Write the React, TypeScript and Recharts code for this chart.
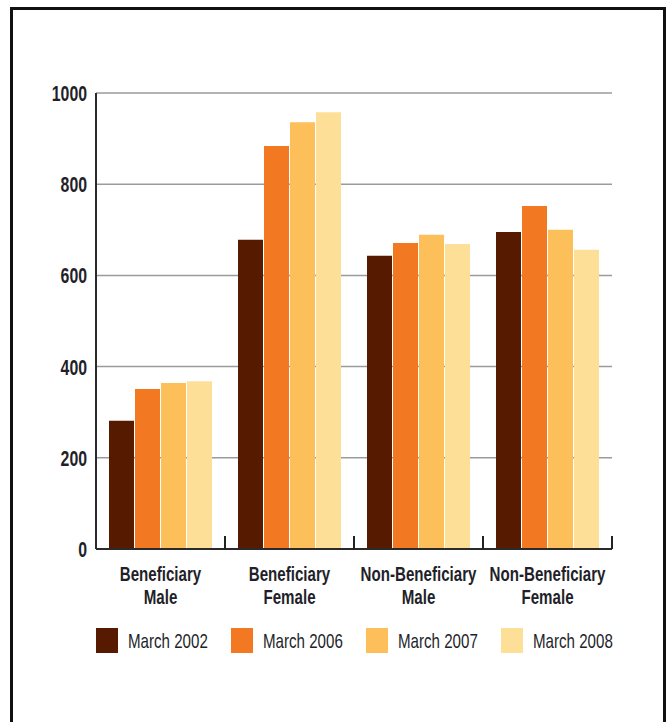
import { BarChart, Bar, XAxis, YAxis, CartesianGrid } from 'recharts'

const CATEGORIES = [
  ['Beneficiary', 'Male'],
  ['Beneficiary', 'Female'],
  ['Non-Beneficiary', 'Male'],
  ['Non-Beneficiary', 'Female'],
]
const SERIES_NAMES = ['March 2002', 'March 2006', 'March 2007', 'March 2008']
const MARCH_2002 = [281, 678, 643, 695]
const MARCH_2006 = [351, 884, 671, 752]
const MARCH_2007 = [364, 936, 689, 700]
const MARCH_2008 = [368, 958, 669, 656]
const Y_TICKS = [0, 200, 400, 600, 800, 1000]

const COLORS = ['#561a00', '#f37822', '#fdbf5a', '#fedf98']
const FONT = '"Liberation Sans", Arial, sans-serif'
const TEXT = '#231f2a'
const SQUEEZE = 0.72

const seriesValues = [MARCH_2002, MARCH_2006, MARCH_2007, MARCH_2008]
const data = CATEGORIES.map((lines, i) => ({
  key: lines.join(' '),
  s0: seriesValues[0][i],
  s1: seriesValues[1][i],
  s2: seriesValues[2][i],
  s3: seriesValues[3][i],
}))

function ValueTick(props: any) {
  const { x, y, payload } = props
  return (
    <text
      transform={`translate(${x},${y + 8}) scale(${SQUEEZE},1)`}
      textAnchor="end"
      fontFamily={FONT}
      fontWeight="bold"
      fontSize={22}
      fill={TEXT}
    >
      {payload.value}
    </text>
  )
}

function CategoryTick(props: any) {
  const { x, y, payload, index } = props
  const half = payload?.offset ?? 64.4
  const lines = CATEGORIES[index] ?? []
  return (
    <g>
      <line x1={x + half} x2={x + half} y1={y - 13} y2={y} stroke="#222" strokeWidth={2} />
      {lines.map((t, i) => (
        <text
          key={i}
          transform={`translate(${x},${y + 32 + i * 23}) scale(${SQUEEZE},1)`}
          textAnchor="middle"
          fontFamily={FONT}
          fontWeight="bold"
          fontSize={21}
          fill={TEXT}
        >
          {t}
        </text>
      ))}
    </g>
  )
}

export default function App() {
  return (
    <div style={{ position: 'absolute', left: 0, top: 0, width: 668, height: 722, background: '#fff', overflow: 'hidden' }}>
      <div
        style={{
          position: 'absolute',
          left: 10,
          top: 7,
          width: 656,
          height: 740,
          border: '3px solid #111',
          boxSizing: 'border-box',
        }}
      />
      <div style={{ position: 'absolute', left: 0, top: 0 }}>
        <BarChart
          width={668}
          height={722}
          data={data}
          margin={{ top: 93, right: 56, bottom: 0, left: 0 }}
          barCategoryGap={13}
          barGap={1}
        >
          <CartesianGrid vertical={false} stroke="#9b9b9b" strokeWidth={1.5} />
          <YAxis
            width={96}
            domain={[0, 1000]}
            ticks={Y_TICKS}
            tickLine={false}
            tickSize={0}
            tickMargin={9}
            axisLine={{ stroke: '#2a2a2a', strokeWidth: 2 }}
            tick={<ValueTick />}
          />
          <XAxis
            dataKey="key"
            height={173}
            tickLine={false}
            tickSize={0}
            tickMargin={0}
            interval={0}
            axisLine={{ stroke: '#2a2a2a', strokeWidth: 2 }}
            tick={<CategoryTick />}
          />
          {SERIES_NAMES.map((name, i) => (
            <Bar key={name} dataKey={`s${i}`} name={name} fill={COLORS[i]} isAnimationActive={false} />
          ))}
        </BarChart>
      </div>
      <div style={{ position: 'absolute', left: 96, top: 628, display: 'flex' }}>
        {SERIES_NAMES.map((name, i) => (
          <div key={name} style={{ display: 'flex', alignItems: 'center', width: 135 }}>
            <div style={{ width: 22, height: 25, background: COLORS[i], flexShrink: 0 }} />
            <span
              style={{
                marginLeft: 10,
                fontFamily: FONT,
                fontSize: 21,
                color: TEXT,
                display: 'inline-block',
                transform: `scale(${SQUEEZE},1)`,
                transformOrigin: 'left center',
                whiteSpace: 'nowrap',
              }}
            >
              {name}
            </span>
          </div>
        ))}
      </div>
    </div>
  )
}
